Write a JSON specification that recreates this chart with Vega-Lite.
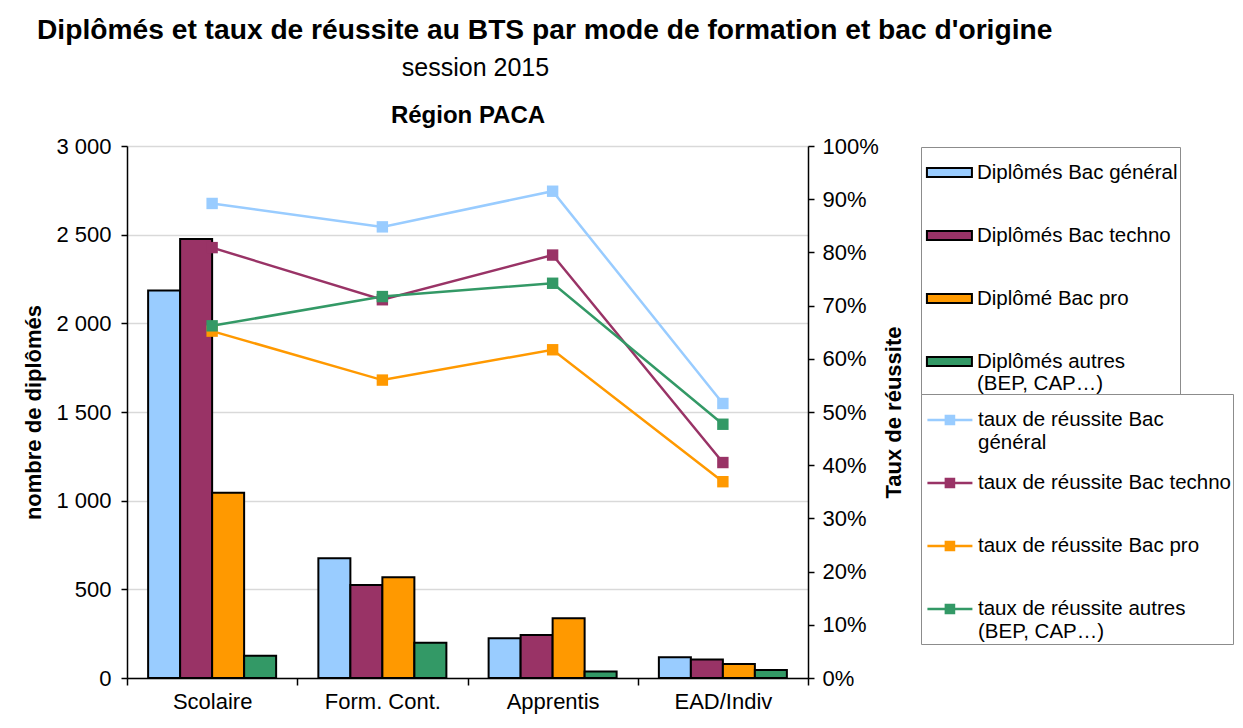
{
  "$schema": "https://vega.github.io/schema/vega-lite/v6.json",
  "autosize": {"type": "none"},
  "padding": {"left": 127, "top": 146, "right": 435, "bottom": 50},
  "width": 681,
  "height": 532,
  "background": "white",
  "title": {
    "text": "Diplômés et taux de réussite au BTS  par mode de formation et bac d'origine",
    "anchor": "start",
    "frame": "group",
    "dx": -90,
    "offset": 10,
    "fontSize": 28.2,
    "fontWeight": "bold",
    "font": "Liberation Sans",
    "color": "black"
  },
  "config": {
    "font": "Liberation Sans",
    "view": {"stroke": null},
    "axis": {
      "labelFont": "Liberation Sans",
      "labelFontSize": 22,
      "labelColor": "black",
      "titleFont": "Liberation Sans",
      "titleFontSize": 22,
      "titleFontWeight": "bold",
      "titleColor": "black",
      "domainColor": "black",
      "domainWidth": 1.5,
      "tickColor": "black",
      "tickWidth": 1.5
    },
    "legend": {
      "orient": "none",
      "padding": 2,
      "strokeColor": "#8c8c8c",
      "fillColor": "white",
      "labelFont": "Liberation Sans",
      "labelFontSize": 20.5,
      "labelColor": "black",
      "labelLimit": 400,
      "labelOffset": 7,
      "labelBaseline": "middle",
      "rowPadding": 6,
      "symbolSize": 2025,
      "symbolOpacity": 1
    }
  },
  "datasets": {
    "diplomes": [
      {"mode": "Scolaire", "serie": "Diplômés Bac général", "nombre": 2185},
      {"mode": "Scolaire", "serie": "Diplômés Bac techno", "nombre": 2475},
      {"mode": "Scolaire", "serie": "Diplômé Bac pro", "nombre": 1045},
      {"mode": "Scolaire", "serie": "Diplômés autres (BEP, CAP…)", "nombre": 125},
      {"mode": "Form. Cont.", "serie": "Diplômés Bac général", "nombre": 675},
      {"mode": "Form. Cont.", "serie": "Diplômés Bac techno", "nombre": 525},
      {"mode": "Form. Cont.", "serie": "Diplômé Bac pro", "nombre": 568},
      {"mode": "Form. Cont.", "serie": "Diplômés autres (BEP, CAP…)", "nombre": 199},
      {"mode": "Apprentis", "serie": "Diplômés Bac général", "nombre": 224},
      {"mode": "Apprentis", "serie": "Diplômés Bac techno", "nombre": 242},
      {"mode": "Apprentis", "serie": "Diplômé Bac pro", "nombre": 337},
      {"mode": "Apprentis", "serie": "Diplômés autres (BEP, CAP…)", "nombre": 36},
      {"mode": "EAD/Indiv", "serie": "Diplômés Bac général", "nombre": 117},
      {"mode": "EAD/Indiv", "serie": "Diplômés Bac techno", "nombre": 105},
      {"mode": "EAD/Indiv", "serie": "Diplômé Bac pro", "nombre": 79},
      {"mode": "EAD/Indiv", "serie": "Diplômés autres (BEP, CAP…)", "nombre": 45}
    ],
    "taux": [
      {"mode": "Scolaire", "serie": "taux de réussite Bac général", "taux": 0.892},
      {"mode": "Form. Cont.", "serie": "taux de réussite Bac général", "taux": 0.848},
      {"mode": "Apprentis", "serie": "taux de réussite Bac général", "taux": 0.915},
      {"mode": "EAD/Indiv", "serie": "taux de réussite Bac général", "taux": 0.516},
      {"mode": "Scolaire", "serie": "taux de réussite Bac techno", "taux": 0.809},
      {"mode": "Form. Cont.", "serie": "taux de réussite Bac techno", "taux": 0.711},
      {"mode": "Apprentis", "serie": "taux de réussite Bac techno", "taux": 0.795},
      {"mode": "EAD/Indiv", "serie": "taux de réussite Bac techno", "taux": 0.405},
      {"mode": "Scolaire", "serie": "taux de réussite Bac pro", "taux": 0.652},
      {"mode": "Form. Cont.", "serie": "taux de réussite Bac pro", "taux": 0.560},
      {"mode": "Apprentis", "serie": "taux de réussite Bac pro", "taux": 0.617},
      {"mode": "EAD/Indiv", "serie": "taux de réussite Bac pro", "taux": 0.369},
      {"mode": "Scolaire", "serie": "taux de réussite autres (BEP, CAP…)", "taux": 0.662},
      {"mode": "Form. Cont.", "serie": "taux de réussite autres (BEP, CAP…)", "taux": 0.717},
      {"mode": "Apprentis", "serie": "taux de réussite autres (BEP, CAP…)", "taux": 0.742},
      {"mode": "EAD/Indiv", "serie": "taux de réussite autres (BEP, CAP…)", "taux": 0.477}
    ]
  },
  "layer": [
    {
      "data": {"name": "diplomes"},
      "mark": {"type": "bar", "stroke": "black", "strokeWidth": 2, "strokeJoin": "miter"},
      "encoding": {
        "x": {
          "field": "mode",
          "type": "nominal",
          "sort": ["Scolaire", "Form. Cont.", "Apprentis", "EAD/Indiv"],
          "scale": {"paddingInner": 0, "paddingOuter": 0},
          "axis": {
            "orient": "bottom",
            "title": null,
            "labelAngle": 0,
            "tickBand": "extent",
            "tickSize": 7,
            "labelPadding": 6,
            "grid": false
          }
        },
        "xOffset": {
          "field": "serie",
          "type": "nominal",
          "sort": ["Diplômés Bac général", "Diplômés Bac techno", "Diplômé Bac pro", "Diplômés autres (BEP, CAP…)"],
          "scale": {"paddingInner": 0, "paddingOuter": 0.66}
        },
        "y": {
          "field": "nombre",
          "type": "quantitative",
          "scale": {"domain": [0, 3000], "nice": false},
          "axis": {
            "orient": "left",
            "title": "nombre de diplômés",
            "values": [0, 500, 1000, 1500, 2000, 2500, 3000],
            "labelExpr": "replace(format(datum.value, ','), ',', ' ')",
            "tickSize": 6,
            "labelPadding": 10,
            "titlePadding": 10,
            "grid": true,
            "gridColor": "#d9d9d9",
            "gridWidth": 1.5
          }
        },
        "fill": {
          "field": "serie",
          "type": "nominal",
          "scale": {
            "domain": ["Diplômés Bac général", "Diplômés Bac techno", "Diplômé Bac pro", "Diplômés autres (BEP, CAP…)"],
            "range": ["#99ccff", "#993366", "#ff9900", "#339966"]
          },
          "legend": {
            "title": null,
            "legendX": 794,
            "legendY": 1,
            "symbolType": "M-0.87,-0.2H1.13V0.2H-0.87Z",
            "symbolStrokeColor": "black",
            "symbolStrokeWidth": 2,
            "labelExpr": "datum.label == 'Diplômés autres (BEP, CAP…)' ? ['Diplômés autres', '(BEP, CAP…)'] : [datum.label, ' ']"
          }
        }
      }
    },
    {
      "data": {"name": "taux"},
      "mark": {"type": "line", "strokeWidth": 2.5},
      "encoding": {
        "x": {
          "field": "mode",
          "type": "nominal",
          "sort": ["Scolaire", "Form. Cont.", "Apprentis", "EAD/Indiv"],
          "axis": {
            "orient": "top",
            "title": "Région PACA",
            "titleFontSize": 24,
            "titleFontWeight": "bold",
            "titleBaseline": "middle",
            "titleY": -31,
            "labels": false,
            "ticks": false,
            "domain": false,
            "grid": false
          }
        },
        "y": {
          "field": "taux",
          "type": "quantitative",
          "scale": {"domain": [0, 1], "nice": false},
          "axis": {
            "orient": "right",
            "title": "Taux de réussite",
            "titleAngle": 270,
            "titleX": 85,
            "titleY": 266,
            "titleBaseline": "middle",
            "titleAlign": "center",
            "format": ".0%",
            "values": [0, 0.1, 0.2, 0.3, 0.4, 0.5, 0.6, 0.7, 0.8, 0.9, 1],
            "tickSize": 6,
            "labelPadding": 8,
            "grid": false
          }
        },
        "stroke": {
          "field": "serie",
          "type": "nominal",
          "scale": {
            "domain": ["taux de réussite Bac général", "taux de réussite Bac techno", "taux de réussite Bac pro", "taux de réussite autres (BEP, CAP…)"],
            "range": ["#99ccff", "#993366", "#ff9900", "#339966"]
          },
          "legend": {
            "title": null,
            "legendX": 794,
            "legendY": 248,
            "symbolType": "M-0.87,0H1.13M-0.05,-0.18H0.31V0.18H-0.05ZM-0.05,-0.12H0.31M-0.05,-0.06H0.31M-0.05,0H0.31M-0.05,0.06H0.31M-0.05,0.12H0.31",
            "symbolStrokeWidth": 2.5,
            "labelExpr": "datum.label == 'taux de réussite Bac général' ? ['taux de réussite Bac', 'général'] : datum.label == 'taux de réussite autres (BEP, CAP…)' ? ['taux de réussite autres', '(BEP, CAP…)'] : [datum.label, ' ']"
          }
        }
      }
    },
    {
      "data": {"name": "taux"},
      "mark": {"type": "point", "shape": "square", "filled": true, "size": 130, "opacity": 1},
      "encoding": {
        "x": {
          "field": "mode",
          "type": "nominal",
          "sort": ["Scolaire", "Form. Cont.", "Apprentis", "EAD/Indiv"],
          "axis": {
            "orient": "top",
            "title": "session 2015",
            "titleFontSize": 25,
            "titleFontWeight": "normal",
            "titleBaseline": "middle",
            "titleY": -79,
            "titleX": 348,
            "labels": false,
            "ticks": false,
            "domain": false,
            "grid": false
          }
        },
        "y": {
          "field": "taux",
          "type": "quantitative",
          "scale": {"domain": [0, 1], "nice": false},
          "axis": null
        },
        "color": {
          "field": "serie",
          "type": "nominal",
          "scale": {
            "domain": ["taux de réussite Bac général", "taux de réussite Bac techno", "taux de réussite Bac pro", "taux de réussite autres (BEP, CAP…)"],
            "range": ["#99ccff", "#993366", "#ff9900", "#339966"]
          },
          "legend": null
        }
      }
    }
  ],
  "resolve": {
    "scale": {"y": "independent"},
    "axis": {"x": "independent", "y": "independent"}
  }
}
